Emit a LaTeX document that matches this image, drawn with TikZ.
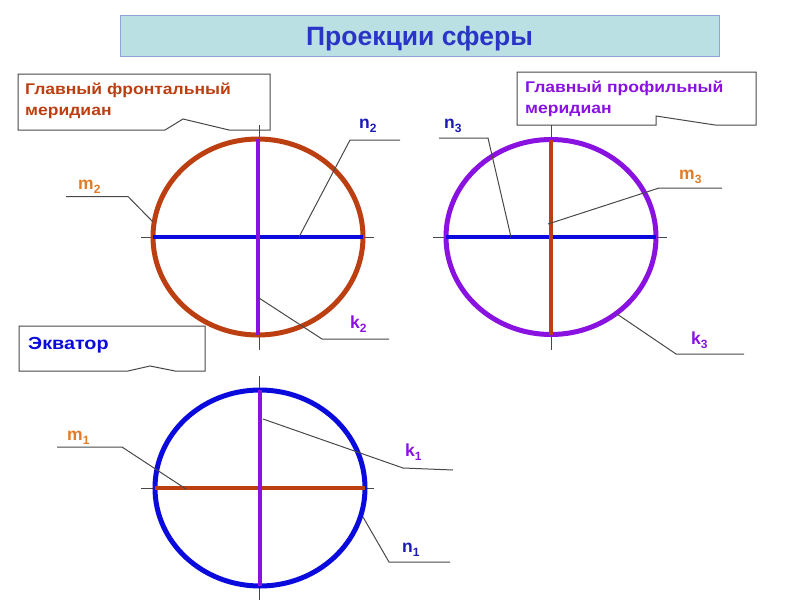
\documentclass[tikz,border=0pt]{standalone}
\usepackage{fontspec}
\setmainfont{Liberation Sans}
\newfontfamily\widefont[FakeStretch=1.13]{Liberation Sans}
\usetikzlibrary{shapes.geometric}
\definecolor{brick}{HTML}{BC3F12}
\definecolor{violet}{HTML}{8A12E0}
\definecolor{navy}{HTML}{0A0ADC}
\definecolor{titlefill}{HTML}{BBE0E3}
\definecolor{titleline}{HTML}{8FA3D6}
\definecolor{titletext}{HTML}{2A35C8}
\definecolor{mtext}{HTML}{E07B28}
\definecolor{ntext}{HTML}{1A1AB4}
\definecolor{leader}{HTML}{484848}
\newcommand{\lblsub}[1]{\raisebox{-4pt}{\fontsize{12}{12}\selectfont #1}}
\tikzset{sphere/.style={ellipse,draw,line width=5pt,inner sep=0pt,outer sep=0pt}}
\tikzset{thickline/.style={line width=4.5pt}}
\tikzset{axisline/.style={draw=leader,line width=1pt}}
\tikzset{ed/.style={draw=leader,line width=1pt}}
\tikzset{callout/.style={draw=leader,line width=1pt,fill=white}}
\tikzset{boxtext/.style={align=left,anchor=base west,inner sep=0pt,font=\widefont\bfseries\fontsize{15.5}{21}\selectfont}}
\tikzset{lbl/.style={anchor=base west,inner sep=0pt,font=\bfseries\fontsize{17.5}{18}\selectfont}}

\begin{document}
\begin{tikzpicture}[x=1pt,y=-1pt]
        \useasboundingbox (0,0) rectangle (800,600);

        \node[draw=titleline,line width=1pt,fill=titlefill,minimum width=599pt,minimum height=41pt,inner sep=0pt,text height=19pt,text depth=0pt,text=titletext,font=\bfseries\fontsize{26.5}{28}\selectfont] (Title) at (419.5,35.5) {Проекции сферы};

        \draw[callout] (18,74) -- (270,74) -- (270,130) -- (229,130) -- (183,119) -- (165,130) -- (18,130) -- cycle;
        \node[boxtext,text=brick] (Front) at (25,115) {Главный фронтальный\\меридиан};
        \draw[callout] (517,72) -- (756,72) -- (756,125) -- (715,125) -- (656,116) -- (656,125) -- (517,125) -- cycle;
        \node[boxtext,text=violet] (Prof) at (525,113) {Главный профильный\\меридиан};
        \draw[callout] (19,326) -- (205,326) -- (205,371) -- (175,371) -- (150,366) -- (128,371) -- (19,371) -- cycle;
        \node[boxtext,text=navy,font=\widefont\bfseries\fontsize{17.5}{21}\selectfont] (Eq) at (28,349) {Экватор};

        \coordinate (Ax2t) at (259,125);
        \coordinate (Ax2b) at (259,350);
        \coordinate (Ax2l) at (141,237);
        \coordinate (Ax2r) at (374,237);
        \draw[axisline] (Ax2t) -- (Ax2b);
        \draw[axisline] (Ax2l) -- (Ax2r);
        \node[sphere,draw=brick,minimum width=210pt,minimum height=196pt] (S2) at (258,237) {};
        \draw[thickline,navy] (S2.west) -- (S2.east);
        \draw[thickline,violet] (S2.north) -- (S2.south);

        \coordinate (Ax3t) at (551,125);
        \coordinate (Ax3b) at (551,350);
        \coordinate (Ax3l) at (433,237);
        \coordinate (Ax3r) at (667,237);
        \draw[axisline] (Ax3t) -- (Ax3b);
        \draw[axisline] (Ax3l) -- (Ax3r);
        \node[sphere,draw=violet,minimum width=210pt,minimum height=195pt] (S3) at (551,237) {};
        \draw[thickline,navy] (S3.west) -- (S3.east);
        \draw[thickline,brick] (S3.north) -- (S3.south);

        \coordinate (Ax1t) at (259,376);
        \coordinate (Ax1b) at (259,600);
        \coordinate (Ax1l) at (141,488);
        \coordinate (Ax1r) at (374,488);
        \draw[axisline] (Ax1t) -- (Ax1b);
        \draw[axisline] (Ax1l) -- (Ax1r);
        \node[sphere,draw=navy,minimum width=210pt,minimum height=196pt] (S1) at (260,488) {};
        \draw[thickline,brick] (S1.west) -- (S1.east);
        \draw[thickline,violet] (S1.north) -- (S1.south);

        \coordinate (M2a) at (66,196.5);
        \coordinate (M2b) at (128,196.5);
        \coordinate (M2c) at (153,222);
        \coordinate (N2a) at (400,140);
        \coordinate (N2b) at (350,140);
        \coordinate (N2c) at (299,237);
        \coordinate (K2a) at (389,339);
        \coordinate (K2b) at (322,339);
        \coordinate (K2c) at (259,298);
        \draw[ed] (M2a) -- (M2b) -- (M2c);
        \draw[ed] (N2a) -- (N2b) -- (N2c);
        \draw[ed] (K2a) -- (K2b) -- (K2c);

        \coordinate (N3a) at (439,138);
        \coordinate (N3b) at (488,138);
        \coordinate (N3c) at (511,237);
        \coordinate (M3a) at (722,188);
        \coordinate (M3b) at (659,188);
        \coordinate (M3c) at (548,224);
        \coordinate (K3a) at (744,354);
        \coordinate (K3b) at (676,354);
        \coordinate (K3c) at (617,314);
        \draw[ed] (N3a) -- (N3b) -- (N3c);
        \draw[ed] (M3a) -- (M3b) -- (M3c);
        \draw[ed] (K3a) -- (K3b) -- (K3c);

        \coordinate (M1a) at (57,447);
        \coordinate (M1b) at (122,447);
        \coordinate (M1c) at (186,489);
        \coordinate (K1a) at (453,470);
        \coordinate (K1b) at (403,468);
        \coordinate (K1c) at (263,419);
        \coordinate (N1a) at (450,562);
        \coordinate (N1b) at (389,562);
        \coordinate (N1c) at (363,517);
        \draw[ed] (M1a) -- (M1b) -- (M1c);
        \draw[ed] (K1a) -- (K1b) -- (K1c);
        \draw[ed] (N1a) -- (N1b) -- (N1c);

        \node[lbl,text=mtext] (m2) at (78,189) {m\lblsub{2}};
        \node[lbl,text=ntext] (n2) at (359,128) {n\lblsub{2}};
        \node[lbl,text=violet] (k2) at (350,328) {k\lblsub{2}};
        \node[lbl,text=ntext] (n3) at (444,128) {n\lblsub{3}};
        \node[lbl,text=mtext] (m3) at (679,179) {m\lblsub{3}};
        \node[lbl,text=violet] (k3) at (691,344) {k\lblsub{3}};
        \node[lbl,text=mtext] (m1) at (67,440) {m\lblsub{1}};
        \node[lbl,text=violet] (k1) at (405,456) {k\lblsub{1}};
        \node[lbl,text=ntext] (n1) at (402,552) {n\lblsub{1}};
    \end{tikzpicture}
\end{document}
